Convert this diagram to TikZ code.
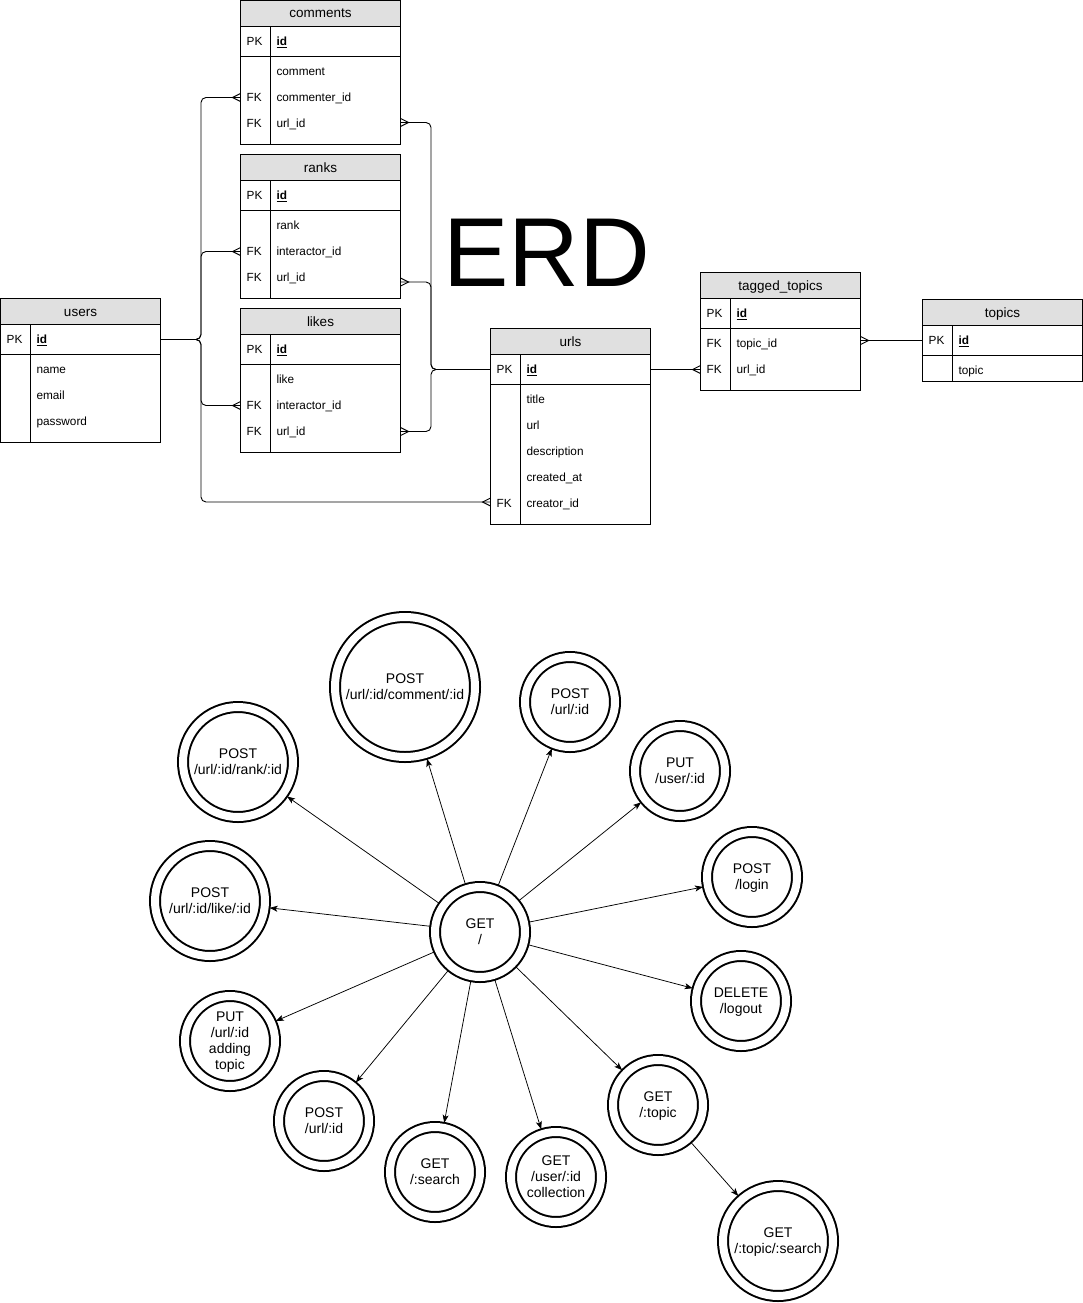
\documentclass[tikz,border=0pt]{standalone}
\usepackage{fontspec}
\setmainfont{Liberation Sans}
\usetikzlibrary{arrows.meta}
\definecolor{hdr}{RGB}{224,224,224}
\newcommand\fsrow{\fontsize{11.8}{14}\selectfont}
\newcommand\fshead{\fontsize{13.5}{16}\selectfont}
\newcommand\fscirc{\fontsize{14}{16}\selectfont}
\pgfdeclarearrow{
  name = Crow,
  setup code = {
    \pgfarrowssettipend{0pt}
    \pgfarrowssetlineend{0pt}
    \pgfarrowssetvisualbackend{-8pt}
    \pgfarrowssetbackend{-8pt}
    \pgfarrowshullpoint{0pt}{4pt}
    \pgfarrowshullpoint{0pt}{-4pt}
    \pgfarrowshullpoint{-8pt}{0pt}
  },
  drawing code = {
    \pgfpathmoveto{\pgfqpoint{0pt}{4pt}}
    \pgfpathlineto{\pgfqpoint{-8pt}{0pt}}
    \pgfpathlineto{\pgfqpoint{0pt}{-4pt}}
    \pgfusepathqstroke
  }
}
\tikzset{
  tline/.style={line width=1pt},
  thead/.style={draw, line width=1pt, fill=hdr, minimum width=160pt, minimum height=26pt, inner sep=0pt, outer sep=0pt, anchor=north west, text height=9pt, text depth=0pt, font=\fshead},
  fieldrow/.style={inner xsep=36pt, inner ysep=0pt, outer sep=0pt, text width=88pt, align=left, text height=8.5pt, text depth=0pt, font=\fsrow},
  keytext/.style={inner sep=0pt, text height=8.5pt, text depth=0pt, font=\fsrow},
  erline/.style={line width=0.9pt, rounded corners=5pt},
  dc/.style={circle, draw, line width=2pt, double distance=8pt, minimum size=90pt, inner sep=0pt, outer sep=5pt, align=center, text depth=0pt, font=\fscirc},
  dcL/.style={dc, minimum size=110pt},
  dcXL/.style={dc, minimum size=140pt},
  api/.style={-{Stealth[length=8pt,width=6pt,inset=2pt]}, line width=0.75pt}
}
% #1 name, #2 title, #3 left x, #4 top y, #5 body height
\newcommand\erdframe[5]{%
  \node[thead] (#1) at (#3,#4) {#2};
  \draw[tline] (#3,#4) rectangle (#3+160,#4+56+#5);
  \draw[tline] (#3,#4+56) -- (#3+160,#4+56);
  \draw[tline] (#3+30,#4+26) -- (#3+30,#4+56+#5);
}
% [#1 height] #2 name, #3 left x, #4 y, #5 key, #6 field
\newcommand\erdrow[6][26]{%
  \node[fieldrow, minimum height=#1pt, anchor=west] (#2) at (#3,#4) {#6};
  \if\relax\detokenize{#5}\relax\else
    \node[keytext, anchor=west] (#2-key) at (#3+6,#4) {#5};
  \fi
}
\begin{document}
\begin{tikzpicture}[x=1pt,y=-1pt]
\fill[white] (0,0) rectangle (1083,1303);
\useasboundingbox (0,0) rectangle (1083,1303);

% ---------- ERD tables ----------
\erdframe{users}{users}{0.5}{298.5}{88}
\erdrow[30]{users-id}{0.5}{339.5}{PK}{\underline{\textbf{id}}}
\erdrow{users-name}{0.5}{369.5}{}{name}
\erdrow{users-email}{0.5}{395.5}{}{email}
\erdrow{users-password}{0.5}{421.5}{}{password}

\erdframe{comments}{comments}{240.5}{0.5}{88}
\erdrow[30]{comments-id}{240.5}{41.5}{PK}{\underline{\textbf{id}}}
\erdrow{comments-comment}{240.5}{71.5}{}{comment}
\erdrow{comments-commenter}{240.5}{97.5}{FK}{commenter\_id}
\erdrow{comments-url}{240.5}{123.5}{FK}{url\_id}

\erdframe{ranks}{ranks}{240.5}{154.5}{88}
\erdrow[30]{ranks-id}{240.5}{195.5}{PK}{\underline{\textbf{id}}}
\erdrow{ranks-rank}{240.5}{225.5}{}{rank}
\erdrow{ranks-interactor}{240.5}{251.5}{FK}{interactor\_id}
\erdrow{ranks-url}{240.5}{277.5}{FK}{url\_id}

\erdframe{likes}{likes}{240.5}{308.5}{88}
\erdrow[30]{likes-id}{240.5}{349.5}{PK}{\underline{\textbf{id}}}
\erdrow{likes-like}{240.5}{379.5}{}{like}
\erdrow{likes-interactor}{240.5}{405.5}{FK}{interactor\_id}
\erdrow{likes-url}{240.5}{431.5}{FK}{url\_id}

\erdframe{urls}{urls}{490.5}{328.5}{140}
\erdrow[30]{urls-id}{490.5}{369.5}{PK}{\underline{\textbf{id}}}
\erdrow{urls-title}{490.5}{399.5}{}{title}
\erdrow{urls-url}{490.5}{425.5}{}{url}
\erdrow{urls-description}{490.5}{451.5}{}{description}
\erdrow{urls-created}{490.5}{477.5}{}{created\_at}
\erdrow{urls-creator}{490.5}{503.5}{FK}{creator\_id}

\erdframe{tt}{tagged\_topics}{700.5}{272.5}{62}
\erdrow[30]{tt-id}{700.5}{313.5}{PK}{\underline{\textbf{id}}}
\erdrow{tt-topic}{700.5}{343.5}{FK}{topic\_id}
\erdrow{tt-url}{700.5}{369.5}{FK}{url\_id}

\erdframe{topics}{topics}{922.5}{299.5}{26}
\erdrow[30]{topics-id}{922.5}{340.5}{PK}{\underline{\textbf{id}}}
\erdrow{topics-topic}{922.5}{370.5}{}{topic}

\node[font=\fontsize{98}{100}\selectfont, inner sep=0pt] (erd) at (546.5,253) {ERD};

% ---------- ERD connectors ----------
\draw[erline, -Crow] (users-id.east) -- ++(40.5,0) |- (comments-commenter.west);
\draw[erline, -Crow] (users-id.east) -- ++(40.5,0) |- (ranks-interactor.west);
\draw[erline, -Crow] (users-id.east) -- ++(40.5,0) |- (likes-interactor.west);
\draw[erline, -Crow] (users-id.east) -- ++(40.5,0) |- ([yshift=1.5pt]urls-creator.west);
\draw[erline, Crow-] ([yshift=1pt]comments-url.east) -- ++(30.5,0) |- (urls-id.west);
\draw[erline, Crow-] ([yshift=-4.5pt]ranks-url.east) -- ++(30.5,0) |- (urls-id.west);
\draw[erline, Crow-] (likes-url.east) -- ++(30.5,0) |- (urls-id.west);
\draw[erline, -Crow] (urls-id.east) -- (tt-url.west);
\draw[erline, -Crow] (topics-id.west) -- (topics-id.west -| tt-topic.east);

% ---------- API graph ----------
\node[dc] (get) at (480,932) {GET\\/};
\node[dcXL] (pcomment) at (405,687) {POST\\/url/:id/comment/:id};
\node[dc] (purl) at (570,702) {POST\\/url/:id};
\node[dcL] (prank) at (238,762) {POST\\/url/:id/rank/:id};
\node[dc] (puser) at (680,771) {PUT\\/user/:id};
\node[dcL] (plike) at (210,901) {POST\\/url/:id/like/:id};
\node[dc] (plogin) at (752,877) {POST\\/login};
\node[dc] (dlogout) at (741,1001) {DELETE\\/logout};
\node[dc] (ptopic) at (230,1041) {PUT\\/url/:id\\adding\\topic};
\node[dc] (purl2) at (324,1121) {POST\\/url/:id};
\node[dc] (gsearch) at (435,1172) {GET\\/:search};
\node[dc] (gcoll) at (556,1177) {GET\\/user/:id\\collection};
\node[dc] (gtopic) at (658,1105) {GET\\/:topic};
\node[dcL] (gtsearch) at (778,1241) {GET\\/:topic/:search};

\foreach \t in {pcomment,purl,prank,puser,plike,plogin,dlogout,ptopic,purl2,gsearch,gcoll,gtopic}
  \draw[api] (get) -- (\t);
\draw[api] (gtopic) -- (gtsearch);
\end{tikzpicture}
\end{document}
